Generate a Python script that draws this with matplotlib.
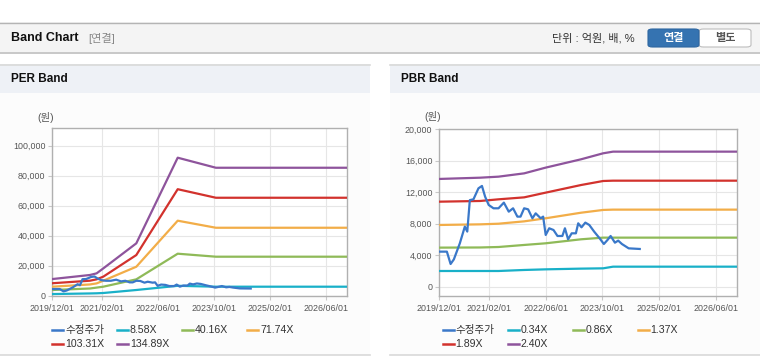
import pandas as pd
import matplotlib
matplotlib.use('Agg')
import matplotlib.pyplot as plt
import matplotlib.dates as mdates
from matplotlib.patches import Rectangle, FancyBboxPatch
from matplotlib.lines import Line2D
from matplotlib.ticker import FuncFormatter

plt.rcParams['font.family'] = ['Liberation Sans', 'Noto Sans CJK KR', 'DejaVu Sans']

# DATOS
price_dates = ['2019-12-01', '2020-02-04', '2020-03-07', '2020-04-04', '2020-05-25', '2020-07-07',
               '2020-07-28', '2020-08-19', '2020-09-19', '2020-11-01', '2020-12-01', '2020-12-28',
               '2021-01-28', '2021-03-10', '2021-04-22', '2021-06-07', '2021-07-19', '2021-08-25',
               '2021-10-01', '2021-10-28', '2021-11-28', '2022-01-01', '2022-02-07', '2022-03-07',
               '2022-04-19', '2022-05-10', '2022-06-01', '2022-07-01', '2022-08-07', '2022-09-10',
               '2022-10-22', '2022-11-13', '2022-12-10', '2023-01-10', '2023-02-15', '2023-03-07',
               '2023-04-04', '2023-05-07', '2023-06-10', '2023-07-22', '2023-09-07', '2023-10-13',
               '2023-11-13', '2023-12-10', '2024-01-16', '2024-02-13', '2024-03-16', '2024-05-13',
               '2024-08-16']
price = [4450, 4450, 2880, 3470, 5500, 7630, 7000, 11000, 11100, 12500, 12800, 11440,
         10380, 9960, 9960, 10680, 9530, 9960, 8900, 8900, 9960, 9830, 8690, 9320,
         8690, 8900, 6570, 7420, 7200, 6440, 6440, 7420, 6020, 6780, 6780, 8050,
         7540, 8140, 7840, 6990, 6140, 5420, 5930, 6440, 5590, 5850, 5420, 4870,
         4790]

per_dates = ['2019-12-01', '2020-10-22', '2020-12-19', '2021-02-15', '2021-11-28',
             '2022-11-22', '2023-10-19', '2026-12-01']
per_858 = [1100, 1500, 1600, 1800, 3800, 6600, 6000, 6000]
per_4016 = [3800, 4800, 5400, 6000, 10900, 28000, 26000, 26000]
per_7174 = [6000, 7500, 8200, 10000, 19300, 50000, 45300, 45300]
per_10331 = [8300, 10000, 10900, 12700, 27100, 71000, 65300, 65300]
per_13489 = [11100, 13800, 14900, 18200, 34900, 92000, 85300, 85300]

pbr_dates = ['2019-12-01', '2020-11-16', '2021-04-22', '2021-11-28', '2022-06-01',
             '2023-04-01', '2023-10-07', '2023-12-31', '2026-12-01']
pbr_034 = [1990, 1990, 1990, 2120, 2200, 2290, 2330, 2540, 2540]
pbr_086 = [4960, 4980, 5040, 5300, 5510, 6020, 6230, 6230, 6230]
pbr_137 = [7840, 7920, 8000, 8300, 8690, 9400, 9750, 9790, 9790]
pbr_189 = [10800, 10890, 11100, 11350, 11950, 12920, 13430, 13470, 13470]
pbr_240 = [13690, 13850, 13980, 14400, 15130, 16190, 16950, 17160, 17160]

per_labels = ['수정주가', '8.58X', '40.16X', '71.74X', '103.31X', '134.89X']
pbr_labels = ['수정주가', '0.34X', '0.86X', '1.37X', '1.89X', '2.40X']
tick_dates = ['2019-12-01', '2021-02-01', '2022-06-01', '2023-10-01', '2025-02-01', '2026-06-01']

COLORES = ['#3a78c9', '#19b0c8', '#8fba58', '#f2ad48', '#d2322d', '#8e549c']
W, H = 760, 364


def fx(px):
    return px / W


def fy(py):
    return 1 - py / H


fig = plt.figure(figsize=(7.6, 3.64), dpi=100)
fig.patch.set_facecolor('white')


def rect(x0, y0, x1, y1, color):
    fig.add_artist(Rectangle((fx(x0), fy(y1)), fx(x1) - fx(x0), fy(y0) - fy(y1),
                             transform=fig.transFigure, facecolor=color, edgecolor='none', zorder=0))


def hline(x0, x1, y, color, lw=1.0):
    fig.add_artist(Line2D([fx(x0), fx(x1)], [fy(y), fy(y)], transform=fig.transFigure,
                          color=color, lw=lw, zorder=1))


# Encabezado
rect(0, 22, 760, 53, '#f4f4f4')
hline(0, 760, 22.5, '#b4b4b4')
hline(0, 760, 53, '#c8c8c8', 1.4)
fig.text(fx(11), fy(38), 'Band Chart', fontsize=9, fontweight='bold', color='#111', va='center')
fig.text(fx(88), fy(38), '[연결]', fontsize=8, color='#888', va='center')
fig.text(fx(552), fy(38.5), '단위 : 억원, 배, %', fontsize=8, color='#333', va='center')
fig.add_artist(FancyBboxPatch((fx(699), fy(47)), fx(751) - fx(699), fy(29) - fy(47),
                              boxstyle='round,pad=0,rounding_size=0.006', transform=fig.transFigure,
                              facecolor='white', edgecolor='#bdbdbd', lw=0.8))
fig.add_artist(FancyBboxPatch((fx(648), fy(47)), fx(699) - fx(648), fy(29) - fy(47),
                              boxstyle='round,pad=0,rounding_size=0.006', transform=fig.transFigure,
                              facecolor='#3573b1', edgecolor='#2e66a0', lw=0.8))
fig.text(fx(673.5), fy(38.5), '연결', fontsize=8, fontweight='bold', color='white', ha='center', va='center')
fig.text(fx(725), fy(38.5), '별도', fontsize=8, fontweight='bold', color='#555', ha='center', va='center')

# Paneles
for x0, x1, titulo in [(0, 370, 'PER Band'), (390, 760, 'PBR Band')]:
    rect(x0, 64, x1, 93, '#eef1f6')
    rect(x0, 93, x1, 355, '#fcfcfc')
    hline(x0, x1, 64.5, '#d9d9d9', 1.2)
    hline(x0, x1, 355, '#d9d9d9', 1.2)
    fig.text(fx(x0 + 11), fy(79), titulo, fontsize=8.5, fontweight='bold', color='#111', va='center')


def dibujar(ax, bandas, fechas_banda, etiquetas, ylim, yticks):
    ax.set_facecolor('white')
    ax.plot(pd.to_datetime(price_dates), price, color=COLORES[0], lw=1.6, zorder=4)
    for i, serie in enumerate(bandas):
        ax.plot(pd.to_datetime(fechas_banda), serie, color=COLORES[i + 1], lw=1.6, zorder=3)
    ax.set_xlim(pd.Timestamp('2019-12-01'), pd.Timestamp('2026-12-01'))
    ax.set_ylim(*ylim)
    ax.set_yticks(yticks)
    ax.yaxis.set_major_formatter(FuncFormatter(lambda v, p: f'{int(v):,}'))
    ax.set_xticks(pd.to_datetime(tick_dates))
    ax.xaxis.set_major_formatter(mdates.DateFormatter('%Y/%m/%d'))
    ax.grid(True, color='#e6e6e6', lw=0.8)
    ax.set_axisbelow(True)
    for s in ax.spines.values():
        s.set_color('#b0b0b0')
        s.set_linewidth(1.0)
    ax.tick_params(axis='both', length=3, color='#c8c8c8', labelsize=6.4, labelcolor='#555', pad=2)
    ax.tick_params(axis='x', pad=3)


ax1 = fig.add_axes([fx(52.3), fy(295.7), fx(347.3) - fx(52.3), fy(128.3) - fy(295.7)])
dibujar(ax1, [per_858, per_4016, per_7174, per_10331, per_13489], per_dates, per_labels,
        (0, 111600), [0, 20000, 40000, 60000, 80000, 100000])
ax2 = fig.add_axes([fx(439.3), fy(295.7), fx(737.3) - fx(439.3), fy(129.3) - fy(295.7)])
dibujar(ax2, [pbr_034, pbr_086, pbr_137, pbr_189, pbr_240], pbr_dates, pbr_labels,
        (-1150, 20000), [0, 4000, 8000, 12000, 16000, 20000])

fig.text(fx(37), fy(118), '(원)', fontsize=7.5, color='#555', va='center')
fig.text(fx(424), fy(117), '(원)', fontsize=7.5, color='#555', va='center')

# Leyendas
for x_ini, etiquetas in [(52, per_labels), (442.7, pbr_labels)]:
    for i, texto in enumerate(etiquetas):
        col, fila = i % 4, i // 4
        x = x_ini + col * 65
        y = 330 + fila * 14
        fig.add_artist(Line2D([fx(x), fx(x + 11)], [fy(y), fy(y)], transform=fig.transFigure,
                              color=COLORES[i], lw=1.8))
        fig.text(fx(x + 13), fy(y), texto, fontsize=7.6, color='#333', va='center')

plt.savefig('out.png', dpi=100)
